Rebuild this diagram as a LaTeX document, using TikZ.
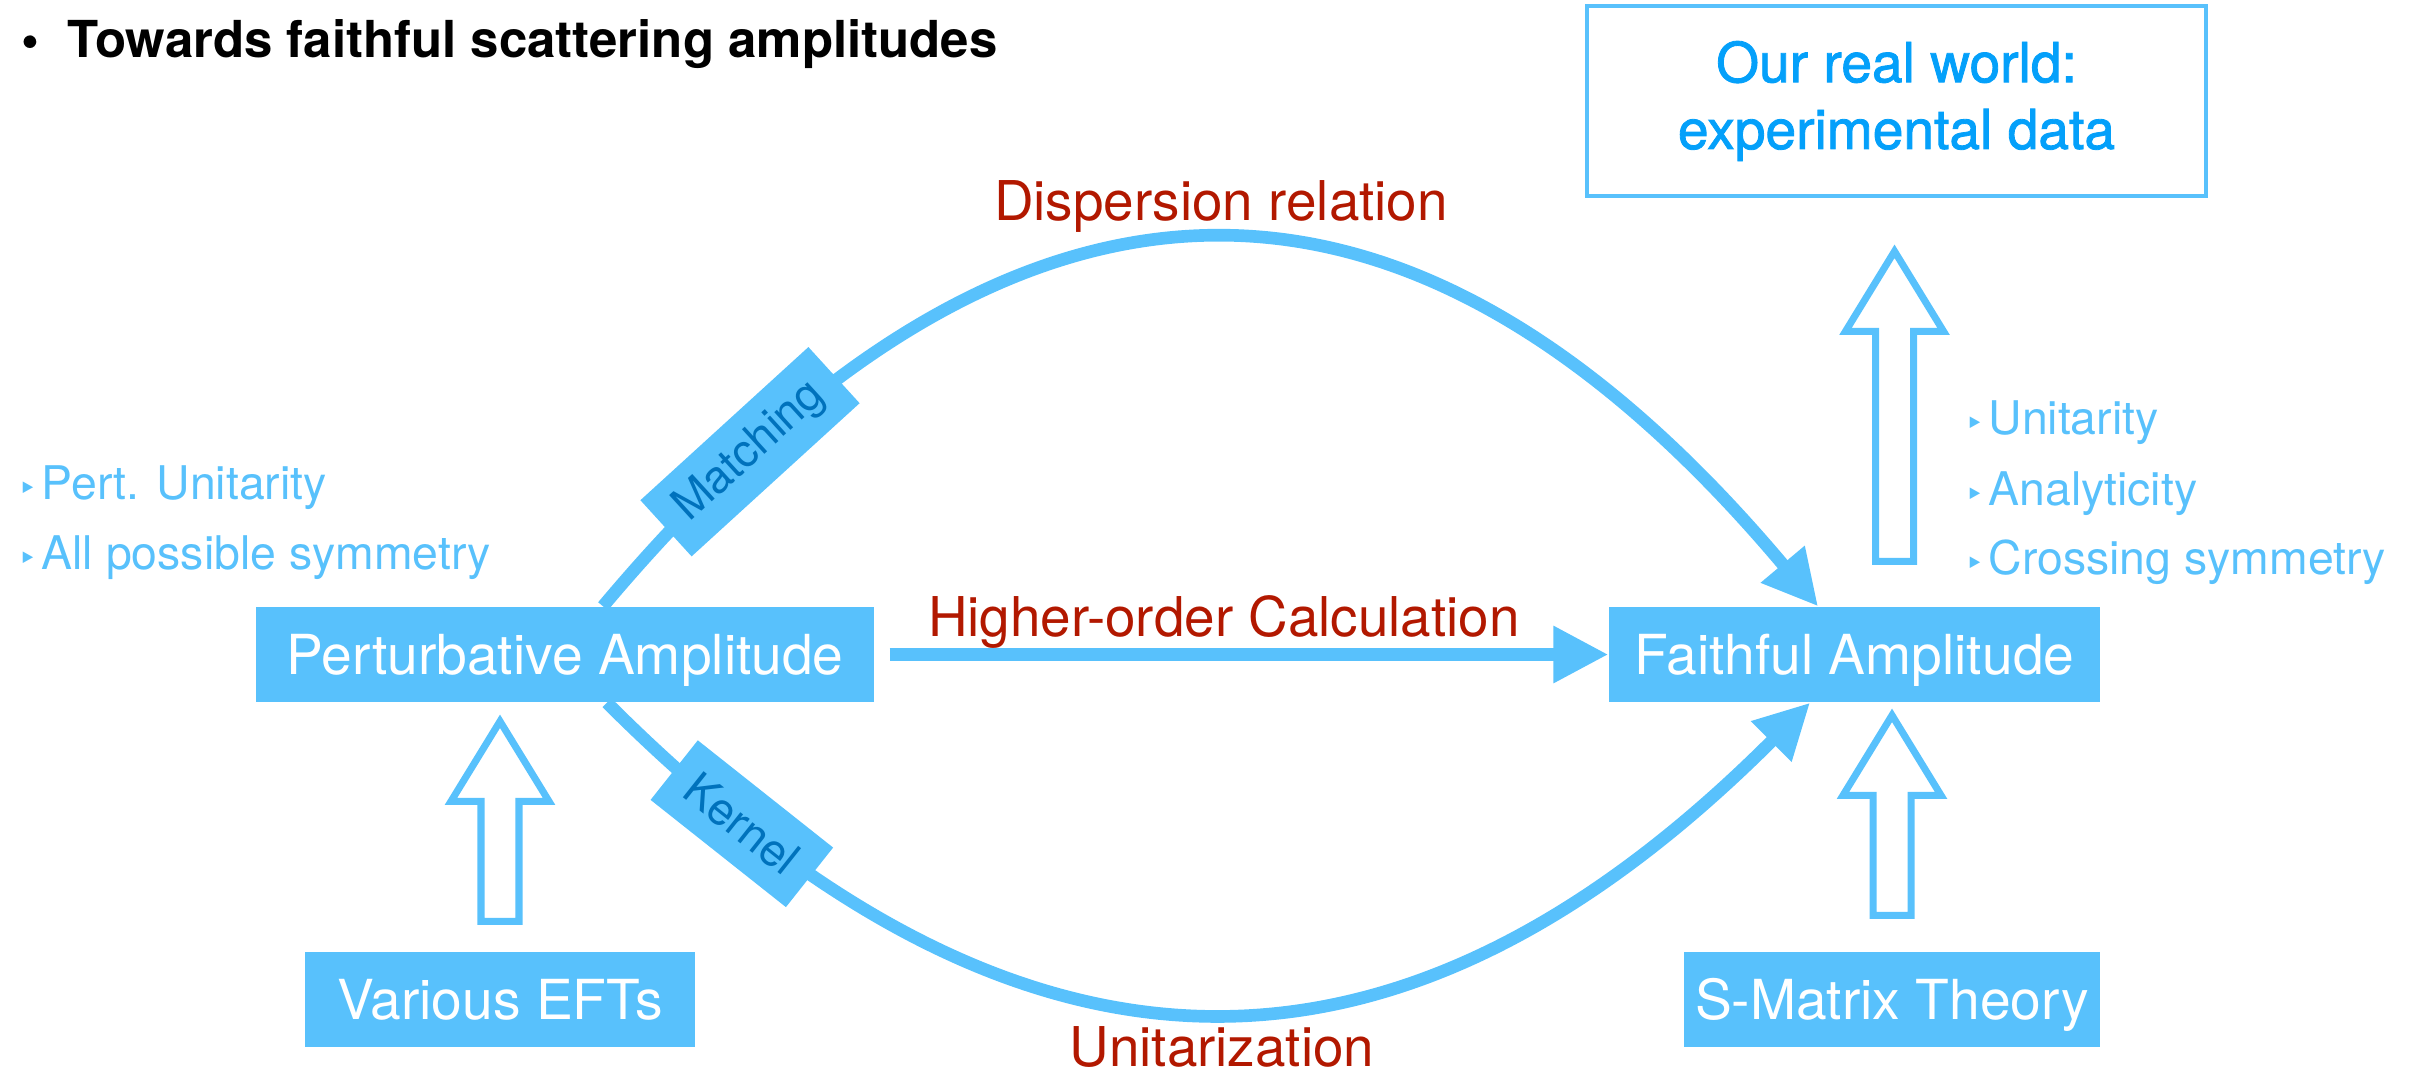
\documentclass[tikz,border=0pt]{standalone}
\usepackage{fontspec}
\setmainfont{TeX Gyre Heros}
\newfontfamily\symfont{DejaVu Sans}
\newfontfamily\medfont[FakeBold=1.5]{TeX Gyre Heros}
\usetikzlibrary{arrows.meta,calc}
\definecolor{skyblue}{RGB}{88,193,252}
\definecolor{deepblue}{RGB}{0,114,188}
\definecolor{worldblue}{RGB}{4,160,250}
\definecolor{calcred}{RGB}{178,24,0}
\newcommand{\tribullet}{\makebox[0.23cm][l]{\symfont\fontsize{9}{9}\selectfont ‣}}
\newcommand{\hollowup}[2]{%
\draw[hollow] (#1) ++(-0.19,0) -- ++(0,#2) -- ++(-0.3,0) -- ++(0.49,0.8)
  -- ++(0.49,-0.8) -- ++(-0.3,0) -- ++(0,-#2) -- cycle;}

\begin{document}
\begin{tikzpicture}[
  box/.style={fill=skyblue, text=white, inner sep=0, minimum height=0.95cm,
    text height=14.1pt, text depth=2.8pt, font=\fontsize{15.7}{19}\selectfont},
  tag/.style={fill=skyblue, text=deepblue, sloped, minimum height=0.76cm,
    inner xsep=0.21cm, font=\fontsize{13}{15}\selectfont},
  flow/.style={draw=skyblue, line width=3.6pt, -{Triangle[length=0.55cm,width=0.54cm]}},
  hint/.style={text=skyblue, anchor=base west, inner sep=0, font=\fontsize{13.2}{15}\selectfont},
  method/.style={text=calcred, anchor=base, inner sep=0, font=\fontsize{15.6}{19}\selectfont},
  hollow/.style={draw=skyblue, line width=2pt, fill=white, line join=miter}
]
\useasboundingbox (0,0) rectangle (24.17,-10.76);
\node[anchor=base west, inner sep=0, font=\fontsize{14.5}{17}\selectfont\bfseries] (title) at (0.21,-0.57) {\makebox[0.46cm][l]{\textbullet}Towards faithful scattering amplitudes};
% boxes
\node[box, minimum width=6.18cm] (pert) at (5.65,-6.545) {Perturbative Amplitude};
\node[box, minimum width=4.91cm] (faith) at (18.545,-6.545) {Faithful Amplitude};
\node[box, minimum width=3.9cm] (efts) at (5.0,-9.995) {Various EFTs};
\node[box, minimum width=4.16cm] (smat) at (18.92,-9.995) {S-Matrix Theory};
\node[draw=skyblue, line width=1pt, text=worldblue, align=center, minimum width=6.19cm, minimum height=1.9cm, font=\medfont\fontsize{15.7}{19}\selectfont] (world) at (18.965,-1.01) {Our real world:\\experimental data};
% lists
\node[hint] (pertuni) at (0.18,-4.99) {\tribullet Pert. Unitarity};
\node[hint] (allsym) at (0.18,-5.69) {\tribullet All possible symmetry};
\node[hint] (uni) at (19.65,-4.34) {\tribullet Unitarity};
\node[hint] (ana) at (19.65,-5.05) {\tribullet Analyticity};
\node[hint] (cross) at (19.65,-5.74) {\tribullet Crossing symmetry};
% methods
\node[method] (disp) at (12.21,-2.20) {Dispersion relation};
\node[method] (higher) at (12.24,-6.36) {Higher-order Calculation};
\node[method] (unitz) at (12.22,-10.66) {Unitarization};
\draw[flow] ([xshift=0.15cm]pert.east) -- (faith.west);
\draw[flow] ([xshift=0.38cm]pert.north) .. controls +(4.1,4.88) and +(-4.1,4.88) .. ([xshift=-0.365cm]faith.north)
  node[tag, pos=0.12] (match) {Matching};
\draw[flow] ([xshift=0.42cm]pert.south) .. controls +(4.12,-4.12) and +(-4.12,-4.12) .. ([xshift=-0.445cm]faith.south)
  node[tag, pos=0.11] (kern) {Kernel};
% hollow arrows
\hollowup{$(efts.north)+(0,0.3)$}{1.2}
\hollowup{$(smat.north)+(0,0.36)$}{1.2}
\hollowup{$(faith.north)+(0.4,0.45)$}{2.3}
\end{tikzpicture}
\end{document}
